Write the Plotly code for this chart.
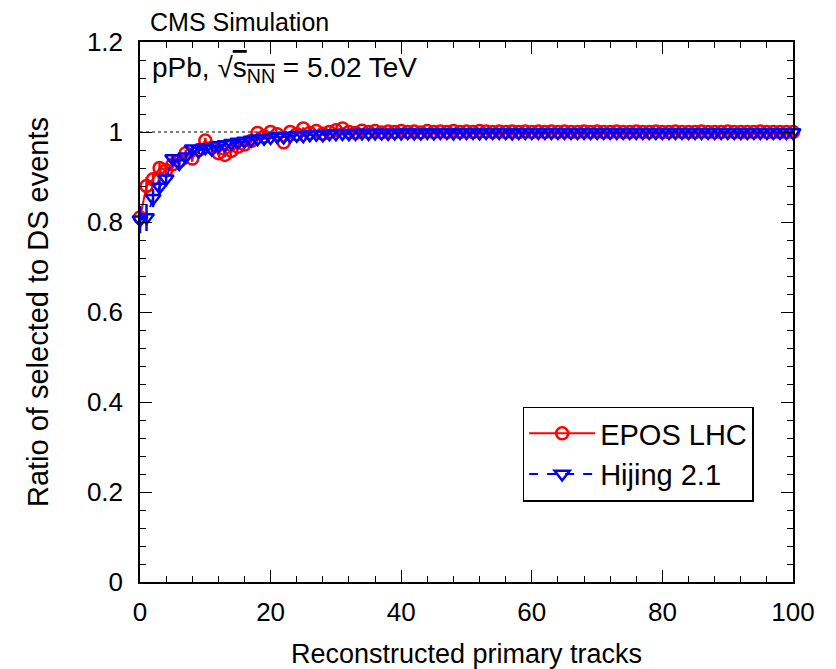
import plotly.graph_objects as go

tracks = list(range(0, 101))

epos_ratio = [
    0.810, 0.880, 0.895, 0.920, 0.915, 0.928, 0.935, 0.953, 0.941, 0.960,
    0.981, 0.965, 0.953, 0.949, 0.958, 0.967, 0.972, 0.980, 0.998, 0.990,
    1.000, 0.995, 0.977, 1.000, 0.995, 1.008, 0.998, 1.002, 0.996, 1.000,
    1.004, 1.008, 1.000, 0.998, 1.003, 1.000, 1.002, 0.999, 1.001, 1.000,
    1.002, 1.000, 1.001, 0.999, 1.002, 1.000, 1.001, 1.000, 1.002, 1.000,
    1.001, 1.000, 1.002, 1.001, 1.000, 1.001, 1.000, 1.001, 1.000, 1.001,
    1.000, 1.001, 1.000, 1.001, 1.000, 1.001, 1.000, 1.000, 1.001, 1.000,
    1.001, 1.000, 1.000, 1.001, 1.000, 1.000, 1.001, 1.000, 1.000, 1.001,
    1.000, 1.000, 1.001, 1.000, 1.000, 1.000, 1.001, 1.000, 1.000, 1.000,
    1.001, 1.000, 1.000, 1.000, 1.000, 1.001, 1.000, 1.000, 1.000, 1.000,
    1.000,
]
epos_err = [
    0.025, 0.020, 0.015, 0.012, 0.010, 0.009, 0.008, 0.007, 0.007, 0.006,
    0.006, 0.005, 0.005, 0.005, 0.004, 0.004, 0.004, 0.004, 0.003, 0.003,
] + [0.002] * 81

hijing_ratio = [
    0.805, 0.810, 0.853, 0.878, 0.896, 0.941, 0.930, 0.945, 0.963, 0.958,
    0.965, 0.962, 0.970, 0.972, 0.975, 0.978, 0.980, 0.982, 0.985, 0.986,
    0.988, 0.990, 0.989, 0.991, 0.993, 0.992, 0.994, 0.995, 0.994, 0.996,
    0.996, 0.997, 0.996, 0.997, 0.998, 0.997, 0.998, 0.998, 0.997, 0.998,
    0.998, 0.999, 0.998, 0.998, 0.999, 0.998, 0.999, 0.999, 0.998, 0.999,
    0.999, 0.999, 0.998, 0.999, 0.999, 0.999, 0.999, 0.998, 0.999, 0.999,
    0.999, 0.999, 0.999, 0.999, 0.999, 0.999, 0.999, 0.999, 0.999, 0.999,
    0.999, 0.999, 0.999, 0.999, 0.999, 0.999, 0.999, 0.999, 0.999, 0.999,
    0.999, 0.999, 0.999, 0.999, 0.999, 0.999, 0.999, 0.999, 0.999, 0.999,
    0.999, 0.999, 0.999, 0.999, 0.999, 0.999, 0.999, 0.999, 0.999, 0.999,
    0.999,
]
hijing_err = [
    0.030, 0.030, 0.020, 0.015, 0.012, 0.010, 0.009, 0.008, 0.007, 0.007,
    0.006, 0.006, 0.005, 0.005, 0.005, 0.004, 0.004, 0.004, 0.003, 0.003,
] + [0.002] * 81

x_ticks = [0, 20, 40, 60, 80, 100]
y_ticks = [0, 0.2, 0.4, 0.6, 0.8, 1.0, 1.2]

FONT = "Liberation Sans, Arial, Helvetica, sans-serif"

fig = go.Figure()

# reference line at unity
fig.add_trace(go.Scatter(
    x=[x_ticks[0], x_ticks[-1]], y=[1.0, 1.0], mode="lines",
    line=dict(color="black", width=1, dash="dot"),
    showlegend=False, hoverinfo="skip",
))

fig.add_trace(go.Scatter(
    x=tracks, y=epos_ratio, name="EPOS LHC", mode="lines+markers",
    line=dict(color="#ff0000", width=2),
    marker=dict(symbol="circle-open", size=12, color="#ff0000", line=dict(width=2.5)),
    error_y=dict(type="data", array=epos_err, color="#ff0000", thickness=2.5, width=0),
    cliponaxis=False,
))

fig.add_trace(go.Scatter(
    x=tracks, y=hijing_ratio, name="Hijing 2.1", mode="lines+markers",
    line=dict(color="#0000ff", width=2, dash="dash"),
    marker=dict(symbol="triangle-down-open", size=13, color="#0000ff", line=dict(width=2.5)),
    error_y=dict(type="data", array=hijing_err, color="#0000ff", thickness=2.5, width=0),
    cliponaxis=False,
))

axis_common = dict(
    showgrid=False, zeroline=False, showline=True, linecolor="black", linewidth=1.5,
    mirror="ticks", ticks="inside", ticklen=12, tickwidth=1.2, tickcolor="black",
    tickfont=dict(family=FONT, size=26, color="black"), automargin=False,
)

fig.update_xaxes(
    range=[0, 100], tickvals=x_ticks, ticklabelstandoff=6,
    minor=dict(dtick=4, ticks="inside", ticklen=6, tickwidth=1.2, tickcolor="black"),
    title=dict(text="Reconstructed primary tracks", font=dict(family=FONT, size=27, color="black"), standoff=20),
    **axis_common,
)
fig.update_yaxes(
    range=[0, 1.2], tickvals=y_ticks, ticklabelstandoff=10,
    minor=dict(dtick=0.04, ticks="inside", ticklen=6, tickwidth=1.2, tickcolor="black"),
    title=dict(text="Ratio of selected to DS events", font=dict(family=FONT, size=29, color="black"), standoff=30),
    **axis_common,
)

fig.add_annotation(
    text="CMS Simulation", xref="paper", yref="paper", x=0.0, y=1.0,
    xanchor="left", yanchor="bottom", yshift=4, xshift=8, showarrow=False,
    font=dict(family=FONT, size=25, color="black"),
)
fig.add_annotation(
    text="pPb, √<span style='text-decoration:overline'>s<sub>NN</sub></span> = 5.02 TeV",
    xref="paper", yref="paper", x=0.016, y=0.950,
    xanchor="left", yanchor="middle", showarrow=False,
    font=dict(family=FONT, size=28, color="black"),
)

fig.update_layout(
    width=836, height=669,
    margin=dict(l=140, r=43, t=42, b=87, autoexpand=False),
    paper_bgcolor="white", plot_bgcolor="white",
    font=dict(family=FONT, color="black"),
    legend=dict(
        x=0.586, y=0.325, xanchor="left", yanchor="top",
        bgcolor="white", bordercolor="black", borderwidth=1.5,
        font=dict(family=FONT, size=29, color="black"),
        tracegroupgap=0, itemwidth=66, entrywidth=240,
    ),
)

fig.write_html("out.html")
